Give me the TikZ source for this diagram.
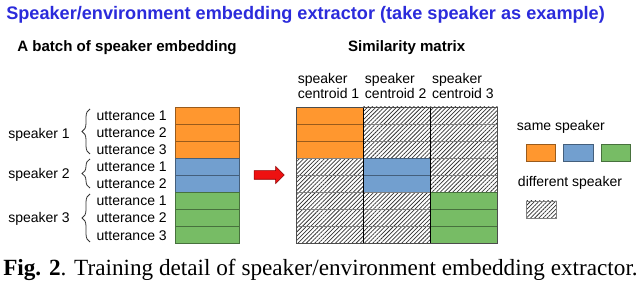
\documentclass[tikz,border=0pt]{standalone}
\usepackage{fontspec}
\setmainfont{Liberation Serif}
\setsansfont{Liberation Sans}
\usetikzlibrary{positioning,patterns.meta,decorations.pathreplacing,shapes.arrows}

\definecolor{spkorange}{HTML}{FF972F}
\definecolor{spkblue}{HTML}{729FCF}
\definecolor{spkgreen}{HTML}{77BC65}
\definecolor{titleblue}{HTML}{2B2BDB}
\definecolor{arrowred}{HTML}{EE1111}

\tikzset{
  txt/.style={font=\sffamily\fontsize{10.5}{11.25}\selectfont, inner sep=0pt},
  subtitle/.style={font=\sffamily\bfseries\fontsize{11.3}{13}\selectfont, inner sep=0pt},
  bigtitle/.style={font=\sffamily\bfseries\fontsize{13.6}{16}\selectfont, text=titleblue, inner sep=0pt},
  figcaption/.style={font=\fontsize{17.4}{20}\selectfont, inner sep=0pt},
  embcell/.style={draw=#1!60!black, fill=#1, line width=0.5pt},
  hatchcell/.style={draw=black!50, line width=0.5pt,
    pattern={Lines[angle=45,distance=2.2pt,line width=0.55pt]}, pattern color=black!80},
  colsep/.style={black, line width=1pt},
  spkbrace/.style={decorate, decoration={brace, amplitude=6pt}, line width=0.6pt, black!80},
  redarrow/.style={single arrow, fill=arrowred, draw=red!55!black, line width=0.4pt,
    minimum height=22.5pt, inner xsep=0pt, inner ysep=3pt, single arrow head extend=3.25pt}
}

\begin{document}
\begin{tikzpicture}[x=0.75pt, y=-0.75pt]
    \def\rh{17.1}
    \def\ytop{107}
    \def\cw{67.2}
    \useasboundingbox (0,0) rectangle (640,284);

    % Titles
    \node[bigtitle, anchor=base west] (title) at (6,19.5) {Speaker/environment embedding extractor (take speaker as example)};
    \node[subtitle] (batch) at (127,48) {A batch of speaker embedding};
    \node[subtitle] (simtitle) at (406.7,47.3) {Similarity matrix};

    % Batch of embeddings
    \foreach \i/\c/\u in {0/spkorange/1, 1/spkorange/2, 2/spkorange/3, 3/spkblue/1,
                          4/spkblue/2, 5/spkgreen/1, 6/spkgreen/2, 7/spkgreen/3} {
        \draw[embcell=\c] (175.5,{\ytop+\i*\rh}) rectangle ++(63.5,\rh);
        \node[txt, anchor=east] (utt\i) at (167,{\ytop+(\i+0.5)*\rh}) {utterance \u};
    }

    % Braces and speakers
    \foreach \a/\b/\y/\n in {109/154/135/1, 159/188/175/2, 194/242/219/3} {
        \draw[spkbrace] (90,\b) -- (90,\a);
        \node[txt, anchor=east] (spk\n) at (70,\y) {speaker \n};
    }

    % Arrow
    \node[redarrow] (arrow) at (267,175) {};

    % Similarity matrix
    \foreach \i/\s in {0/0, 1/0, 2/0, 3/1, 4/1, 5/2, 6/2, 7/2} {
        \foreach \j/\c in {0/spkorange, 1/spkblue, 2/spkgreen} {
            \ifnum\s=\j
                \draw[embcell=\c] ({296+\j*\cw},{\ytop+\i*\rh}) rectangle ++(\cw,\rh);
            \else
                \draw[hatchcell] ({296+\j*\cw},{\ytop+\i*\rh}) rectangle ++(\cw,\rh);
            \fi
        }
    }
    \foreach \j in {1,2}
        \draw[colsep] ({296+\j*\cw},\ytop) -- ++(0,8*\rh);
    \draw[black!70, line width=0.6pt] (296,\ytop) rectangle ++(3*\cw,8*\rh);

    % Column headers
    \foreach \j/\n in {0/1, 1/2, 2/3}
        \node[txt, align=left, anchor=south west] (cent\n) at ({297.5+\j*\cw},98.5) {speaker\\centroid \n};

    % Legend
    \node[txt, anchor=west] (same) at (516.7,127.3) {same speaker};
    \foreach \k/\c in {0/spkorange, 1/spkblue, 2/spkgreen}
        \draw[embcell=\c] ({526+\k*37.5},144.3) rectangle ++(29.5,16.7);
    \node[txt, anchor=west] (diff) at (517.7,182.7) {different speaker};
    \draw[hatchcell] (526,201) rectangle ++(30,17.7);

    % Caption
    \node[figcaption, anchor=base west] (caption) at (3,276) {\textbf{Fig. 2}. Training detail of speaker/environment embedding extractor.};
\end{tikzpicture}
\end{document}
